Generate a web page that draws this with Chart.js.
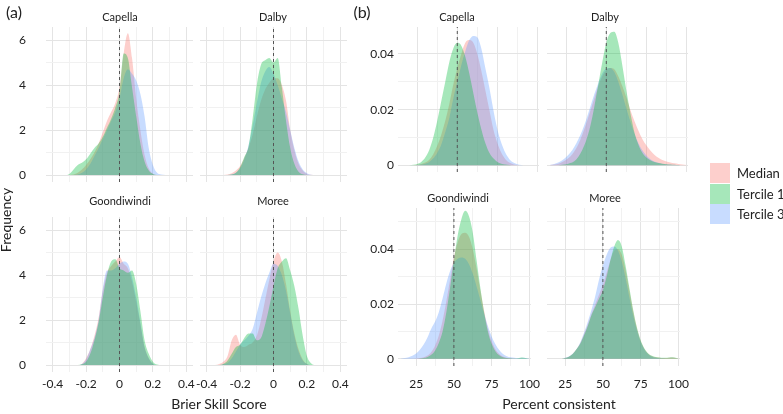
<!DOCTYPE html>
<html><head><meta charset="utf-8">
<script src="https://cdn.jsdelivr.net/npm/chart.js@4.4.1/dist/chart.umd.min.js"></script>
<style>
html,body{margin:0;padding:0;background:#fff;}
#wrap{position:relative;width:783px;height:414px;overflow:hidden;font-family:Lato,'Open Sans',sans-serif;color:#222;}
canvas{position:absolute;}
.t{position:absolute;white-space:nowrap;transform:translate(-50%,-50%);line-height:1;}
</style></head><body><div id="wrap"></div>
<script>
// ---------- DATA ----------
const seriesNames = ['Median', 'Tercile 1', 'Tercile 3'];
const sites = ['Capella', 'Dalby', 'Goondiwindi', 'Moree'];

// (a) Brier Skill Score densities
const bssX = [-0.35,-0.325,-0.3,-0.275,-0.25,-0.225,-0.2,-0.175,-0.15,-0.125,-0.1,-0.075,-0.05,-0.025,0,0.025,0.05,0.075,0.1,0.125,0.15,0.175,0.2,0.225,0.25,0.275,0.3];
const bssCapellaMedian = [0,0,0,0.02,0.1,0.25,0.45,0.7,1.0,1.4,1.9,2.4,2.8,3.2,3.9,5.4,6.3,5.2,3.4,2.0,0.9,0.3,0.06,0,0,0,0];
const bssCapellaT1     = [0,0,0.05,0.25,0.45,0.55,0.7,0.95,1.2,1.4,1.7,2.1,2.5,3.0,3.7,5.4,5.2,3.9,2.6,1.4,0.6,0.2,0.05,0,0,0,0];
const bssCapellaT3     = [0,0,0,0,0.02,0.1,0.25,0.5,0.85,1.2,1.6,2.0,2.4,2.8,3.4,4.3,4.7,4.5,4.2,3.6,2.6,1.2,0.45,0.1,0.02,0,0];
const bssDalbyMedian   = [0,0,0,0.02,0.08,0.2,0.4,0.75,1.2,1.8,2.6,3.3,3.8,4.1,4.3,4.3,4.0,3.3,2.0,1.1,0.5,0.2,0.05,0.01,0,0,0];
const bssDalbyT1       = [0,0,0,0,0.02,0.1,0.35,0.8,1.25,2.5,4.0,4.9,5.1,5.2,5.0,5.2,3.9,2.4,1.2,0.5,0.15,0.03,0,0,0,0,0];
const bssDalbyT3       = [0,0,0,0,0.03,0.1,0.3,0.7,1.3,2.2,3.2,4.1,4.6,4.8,4.5,4.0,3.4,2.8,2.0,1.2,0.6,0.25,0.08,0.01,0,0,0];
const bssGoondiwindiMedian = [0,0,0,0,0,0.05,0.3,0.7,1.3,2.1,3.3,4.1,4.4,4.6,4.8,4.5,4.3,3.7,2.8,1.8,0.8,0.3,0.05,0,0,0,0];
const bssGoondiwindiT1     = [0,0,0,0,0,0.03,0.15,0.5,1.1,1.9,3.0,4.0,4.6,4.7,4.3,4.2,4.1,4.2,3.6,2.4,1.1,0.5,0.15,0.02,0,0,0];
const bssGoondiwindiT3     = [0,0,0,0,0,0.05,0.25,0.7,1.2,2.0,3.4,4.2,4.2,4.3,4.5,4.6,4.5,3.9,3.0,1.9,0.8,0.3,0.06,0,0,0,0];
const bssMoreeMedian = [0,0.05,0.15,0.4,1.1,1.35,0.9,0.8,0.9,1.0,1.3,2.0,2.9,3.8,4.6,5.0,4.6,3.6,2.4,1.4,0.7,0.25,0.05,0,0,0,0];
const bssMoreeT1     = [0,0,0.05,0.2,0.5,0.8,0.9,1.2,1.4,1.4,1.1,1.2,1.8,2.6,3.5,4.3,4.6,4.75,4.2,3.5,2.5,1.3,0.4,0.08,0,0,0];
const bssMoreeT3     = [0,0,0.03,0.1,0.3,0.6,0.9,1.1,1.3,1.6,2.3,3.0,3.6,4.1,4.5,4.4,4.0,3.3,2.3,1.3,0.6,0.2,0.05,0,0,0,0];

// (b) Percent consistent densities
const pctX = [15,17.5,20,22.5,25,27.5,30,32.5,35,37.5,40,42.5,45,47.5,50,52.5,55,57.5,60,62.5,65,67.5,70,72.5,75,77.5,80,82.5,85,87.5,90,92.5,95,97.5,100];
const pctCapellaMedian = [0,0,0,0,0.0002,0.0005,0.001,0.002,0.004,0.007,0.011,0.016,0.022,0.029,0.035,0.040,0.044,0.045,0.044,0.040,0.034,0.027,0.020,0.013,0.008,0.0045,0.0022,0.001,0.0004,0.0001,0,0,0,0,0];
const pctCapellaT1     = [0,0,0,0.0002,0.0005,0.0012,0.0028,0.0055,0.010,0.016,0.023,0.030,0.037,0.042,0.044,0.043,0.039,0.033,0.026,0.019,0.013,0.008,0.0045,0.0025,0.0012,0.0006,0.0003,0.0001,0,0,0,0,0,0,0];
const pctCapellaT3     = [0,0,0,0,0.0001,0.0003,0.0006,0.0012,0.0025,0.0045,0.0075,0.012,0.017,0.024,0.030,0.036,0.041,0.045,0.0465,0.046,0.042,0.035,0.028,0.020,0.013,0.008,0.0045,0.0022,0.001,0.0004,0.0001,0,0,0,0];
const pctDalbyMedian = [0.0001,0.0003,0.0006,0.0012,0.002,0.0032,0.005,0.0075,0.011,0.015,0.0195,0.024,0.0285,0.032,0.0343,0.035,0.0345,0.032,0.0285,0.0245,0.020,0.016,0.0125,0.0095,0.0072,0.0053,0.0038,0.0027,0.0019,0.0014,0.001,0.0007,0.0005,0.0003,0.0001];
const pctDalbyT1     = [0,0,0,0.0002,0.0004,0.0008,0.0015,0.003,0.0055,0.009,0.014,0.021,0.029,0.037,0.044,0.0475,0.048,0.044,0.036,0.027,0.019,0.012,0.0075,0.0045,0.0028,0.0018,0.0012,0.0008,0.0006,0.0004,0.0003,0.0002,0.0001,0,0];
const pctDalbyT3     = [0.0002,0.0005,0.001,0.0018,0.003,0.0045,0.0066,0.0093,0.0125,0.0165,0.021,0.0255,0.0295,0.033,0.0348,0.035,0.0335,0.030,0.0255,0.0205,0.0158,0.0115,0.008,0.0054,0.0035,0.0022,0.0014,0.0009,0.0006,0.0004,0.0003,0.0002,0.0001,0,0];
const pctGoondiwindiMedian = [0,0,0,0,0.0001,0.0003,0.0006,0.0012,0.0025,0.0048,0.0085,0.014,0.021,0.029,0.037,0.0425,0.0455,0.046,0.0445,0.040,0.033,0.025,0.0175,0.011,0.0065,0.0035,0.0018,0.0009,0.0004,0.0002,0.0001,0,0,0,0];
const pctGoondiwindiT1     = [0,0,0,0,0,0.0001,0.0003,0.0007,0.0015,0.003,0.0058,0.010,0.017,0.026,0.036,0.045,0.051,0.054,0.052,0.046,0.036,0.026,0.017,0.010,0.0055,0.0028,0.0013,0.0006,0.0003,0.0002,0.0001,0.0002,0.0005,0.0003,0];
const pctGoondiwindiT3     = [0.0001,0.0003,0.0006,0.0011,0.002,0.0033,0.0052,0.0078,0.011,0.0135,0.017,0.022,0.0275,0.032,0.035,0.0365,0.037,0.0365,0.0345,0.031,0.0265,0.0215,0.0165,0.012,0.0082,0.0053,0.0032,0.0018,0.001,0.0006,0.0004,0.0003,0.0004,0.0003,0.0001];
const pctMoreeMedian = [0,0,0,0,0.0003,0.0008,0.0018,0.0035,0.0057,0.009,0.0125,0.0165,0.020,0.0235,0.027,0.0315,0.036,0.0395,0.040,0.038,0.0325,0.025,0.0175,0.0112,0.0066,0.0036,0.0019,0.001,0.0006,0.0004,0.0003,0.0003,0.0005,0.0004,0.0001];
const pctMoreeT1     = [0,0,0,0,0.0003,0.0008,0.0018,0.0035,0.0055,0.0085,0.012,0.016,0.019,0.022,0.025,0.030,0.036,0.041,0.0433,0.041,0.034,0.026,0.018,0.0115,0.0068,0.0038,0.002,0.0011,0.0007,0.0005,0.0004,0.0004,0.0006,0.0005,0.0001];
const pctMoreeT3     = [0,0,0,0,0.0004,0.0009,0.0019,0.0035,0.006,0.0095,0.0135,0.018,0.023,0.029,0.034,0.038,0.0405,0.041,0.0395,0.0355,0.0295,0.0225,0.016,0.0105,0.0062,0.0034,0.0017,0.0008,0.0004,0.0002,0.0001,0,0,0,0];

// ticks
const bssTicks = [-0.4,-0.3,-0.2,-0.1,0,0.1,0.2,0.3,0.4];
const bssTickLabels = ['-0.4','','-0.2','','0','','0.2','','0.4'];
const freqTicks = [0,1,2,3,4,5,6];
const freqTickLabels = ['0','','2','','4','','6'];
const pctTicks = [25,37.5,50,62.5,75,87.5,100];
const pctTickLabels = ['25','','50','','75','','100'];
const densTicks = [0,0.01,0.02,0.03,0.04,0.05];
const densTickLabels = ['0','','0.02','','0.04',''];
const bssRef = 0;
const pctRef = 50;

// ---------- STYLE / LAYOUT ----------
const seriesColors = ['rgba(248,118,109,0.35)','rgba(0,186,56,0.35)','rgba(97,156,255,0.35)'];
const seriesOrder = [3,1,2];
const FONT = 'Lato, "Open Sans", sans-serif';
const wrap = document.getElementById('wrap');
const P = 12;   // horizontal layout padding
const PV = 34;  // vertical layout padding (absorbs tick label padding)

const panels = [
 {site:sites[0], x:bssX, ys:[bssCapellaMedian,bssCapellaT1,bssCapellaT3], ref:bssRef, xr:[-0.44,0.44], yr:[-0.31,6.58], xt:bssTicks, xl:bssTickLabels, yt:freqTicks, yl:freqTickLabels, L:46,T:27,W:147,H:155, yw:30, ypad:20, showX:false, showY:true, xpad:5, tx:120, ty:16},
 {site:sites[1], x:bssX, ys:[bssDalbyMedian,bssDalbyT1,bssDalbyT3], ref:bssRef, xr:[-0.44,0.44], yr:[-0.31,6.58], xt:bssTicks, xl:bssTickLabels, yt:freqTicks, yl:freqTickLabels, L:200,T:27,W:147,H:155, yw:0, ypad:0, showX:false, showY:false, xpad:5, tx:273, ty:16},
 {site:sites[2], x:bssX, ys:[bssGoondiwindiMedian,bssGoondiwindiT1,bssGoondiwindiT3], ref:bssRef, xr:[-0.44,0.44], yr:[-0.31,6.58], xt:bssTicks, xl:bssTickLabels, yt:freqTicks, yl:freqTickLabels, L:46,T:217,W:147,H:155, yw:30, ypad:20, showX:true, showY:true, xpad:5, tx:120, ty:200},
 {site:sites[3], x:bssX, ys:[bssMoreeMedian,bssMoreeT1,bssMoreeT3], ref:bssRef, xr:[-0.44,0.44], yr:[-0.31,6.58], xt:bssTicks, xl:bssTickLabels, yt:freqTicks, yl:freqTickLabels, L:200,T:217,W:147,H:155, yw:0, ypad:0, showX:true, showY:false, xpad:5, tx:273, ty:200},
 {site:sites[0], x:pctX, ys:[pctCapellaMedian,pctCapellaT1,pctCapellaT3], ref:pctRef, xr:[13,101], yr:[-0.0024,0.0497], xt:pctTicks, xl:pctTickLabels, yt:densTicks.slice(0,5), yl:densTickLabels, L:398,T:27,W:141,H:145, yw:30, ypad:4, showX:false, showY:true, xpad:11, tx:457, ty:16},
 {site:sites[1], x:pctX, ys:[pctDalbyMedian,pctDalbyT1,pctDalbyT3], ref:pctRef, xr:[13,101], yr:[-0.0024,0.0497], xt:pctTicks, xl:pctTickLabels, yt:densTicks.slice(0,5), yl:densTickLabels, L:547,T:27,W:141,H:145, yw:0, ypad:0, showX:false, showY:false, xpad:11, tx:605, ty:16},
 {site:sites[2], x:pctX, ys:[pctGoondiwindiMedian,pctGoondiwindiT1,pctGoondiwindiT3], ref:pctRef, xr:[13,101], yr:[-0.0026,0.055], xt:pctTicks, xl:pctTickLabels, yt:densTicks, yl:densTickLabels, L:398,T:208,W:141,H:158, yw:30, ypad:4, showX:true, showY:true, xpad:11, tx:458, ty:197},
 {site:sites[3], x:pctX, ys:[pctMoreeMedian,pctMoreeT1,pctMoreeT3], ref:pctRef, xr:[13,101], yr:[-0.0026,0.055], xt:pctTicks, xl:pctTickLabels, yt:densTicks, yl:densTickLabels, L:547,T:208,W:141,H:158, yw:0, ypad:0, showX:true, showY:false, xpad:11, tx:605, ty:197}
];

function addText(txt, x, y, size, extra) {
  const d = document.createElement('div');
  d.className = 't';
  d.textContent = txt;
  d.style.left = x + 'px';
  d.style.top = y + 'px';
  d.style.fontSize = size + 'px';
  if (extra) Object.assign(d.style, extra);
  wrap.appendChild(d);
  return d;
}

function gridColor(labels) {
  return (ctx) => (labels[ctx.index] ? '#e4e4e4' : '#f1f1f1');
}

panels.forEach((p) => {
  const xh = p.showX ? 25 : 0;
  const cv = document.createElement('canvas');
  const cw = P + p.yw + p.W + P;
  const ch = PV + p.H + xh + PV;
  cv.width = cw; cv.height = ch;
  cv.style.left = (p.L - p.yw - P) + 'px';
  cv.style.top = (p.T - PV) + 'px';
  cv.style.width = cw + 'px'; cv.style.height = ch + 'px';
  wrap.appendChild(cv);

  const datasets = [{
    label: 'ref',
    data: [{x: p.ref, y: p.yr[0]}, {x: p.ref, y: p.yr[1]}],
    borderColor: '#555', borderWidth: 1, borderDash: [3, 3],
    fill: false, pointRadius: 0, order: 0
  }];
  seriesNames.forEach((n, i) => {
    datasets.push({
      label: n,
      data: p.x.map((v, j) => ({x: v, y: p.ys[i][j]})),
      backgroundColor: seriesColors[i],
      borderColor: 'rgba(0,0,0,0)', borderWidth: 0,
      fill: 'origin', cubicInterpolationMode: 'monotone',
      pointRadius: 0, order: seriesOrder[i]
    });
  });

  new Chart(cv, {
    type: 'line',
    data: {datasets},
    options: {
      responsive: false, animation: false, devicePixelRatio: 1,
      events: [],
      layout: {padding: {left: P, right: P, top: PV, bottom: PV}},
      plugins: {legend: {display: false}, tooltip: {enabled: false}, title: {display: false}},
      scales: {
        x: {
          type: 'linear', min: p.xr[0], max: p.xr[1],
          afterBuildTicks: (s) => { s.ticks = p.xt.map(v => ({value: v})); },
          afterFit: (s) => { s.height = xh; },
          ticks: {display: p.showX, autoSkip: false, maxRotation: 0, minRotation: 0, padding: p.xpad,
                  color: '#222', font: {family: FONT, size: 12},
                  callback: (v, i) => p.xl[i]},
          grid: {color: gridColor(p.xl), drawTicks: false, lineWidth: 1},
          border: {display: false}
        },
        y: {
          type: 'linear', min: p.yr[0], max: p.yr[1],
          afterBuildTicks: (s) => { s.ticks = p.yt.map(v => ({value: v})); },
          afterFit: (s) => { s.width = p.yw; },
          ticks: {display: p.showY, autoSkip: false, padding: p.ypad,
                  color: '#222', font: {family: FONT, size: 12},
                  callback: (v, i) => p.yl[i]},
          grid: {color: gridColor(p.yl), drawTicks: false, lineWidth: 1},
          border: {display: false}
        }
      }
    }
  });

  addText(p.site, p.tx, p.ty, 11);
});

// panel labels and axis titles
addText('(a)', 14, 12, 16);
addText('(b)', 362, 12, 16);
addText('Brier Skill Score', 219, 404, 14);
addText('Percent consistent', 559, 404, 14);
addText('Frequency', 6, 220, 14, {transform: 'translate(-50%,-50%) rotate(-90deg)'});

// legend
seriesNames.forEach((n, i) => {
  const sw = document.createElement('div');
  sw.style.position = 'absolute';
  sw.style.left = '710px';
  sw.style.top = (163 + i * 20.5) + 'px';
  sw.style.width = '20px';
  sw.style.height = '20px';
  sw.style.background = seriesColors[i];
  wrap.appendChild(sw);
  addText(n, 737, 173 + i * 20.5, 13, {transform: 'translate(0,-50%)'});
});
</script></body></html>
